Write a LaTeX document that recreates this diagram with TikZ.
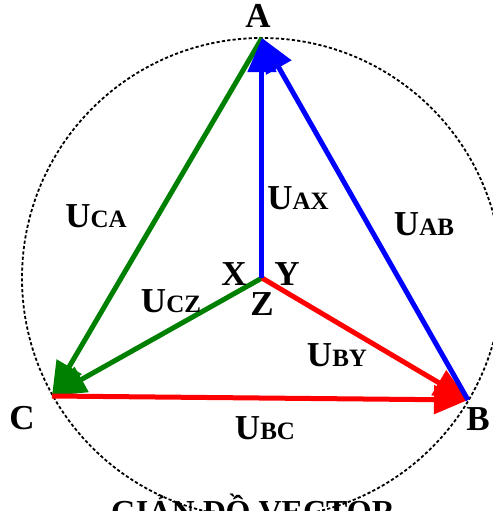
\documentclass[tikz,border=0pt]{standalone}
\usepackage{fontspec}
\setmainfont{Liberation Serif}
\usetikzlibrary{arrows.meta}
\definecolor{vgreen}{RGB}{0,128,0}
\newcommand{\volt}[1]{U{\fontsize{12.5}{13}\selectfont #1}}

\begin{document}
\begin{tikzpicture}[x=0.5pt, y=-0.5pt,
    font=\fontsize{17.5}{19}\selectfont\bfseries,
    vec/.style={line width=2.5pt, -{Triangle[length=17pt,width=14pt]}}]
    \useasboundingbox (0,0) rectangle (493,511);
    \clip (0,0) rectangle (493,511);

    \coordinate (N) at (262,278);
    \coordinate (A) at (262,38);
    \coordinate (B) at (468,400);
    \coordinate (C) at (52,396);

    % circle
    \draw[line width=0.9pt, dash pattern=on 1.6pt off 1.1pt] (N) circle[radius=240];

    % vectors
    \draw[vec, vgreen] (A) -- (C);
    \draw[vec, vgreen] (N) -- (C);
    \draw[vec, red] (N) -- (B);
    \draw[vec, red] (C) -- (B);
    \draw[vec, blue] (N) -- (A);
    \draw[vec, blue] (B) -- (A);

    \node (lA) at (258,16) {A};
    \node (lB) at (478,419) {B};
    \node (lC) at (22,418) {C};
    \node (lX) at (234,274) {X};
    \node (lY) at (287,274) {Y};
    \node (lZ) at (262,304) {Z};

    \node (uCA) at (96,216) {\volt{CA}};
    \node (uAX) at (298,198) {\volt{AX}};
    \node (uAB) at (424,224) {\volt{AB}};
    \node (uCZ) at (171,301) {\volt{CZ}};
    \node (uBY) at (337,355) {\volt{BY}};
    \node (uBC) at (265,428) {\volt{BC}};

    \node[anchor=base, font=\fontsize{16}{18}\selectfont\bfseries] (title) at (253,522) {GIẢN ĐỒ VECTOR};
  \end{tikzpicture}
\end{document}
